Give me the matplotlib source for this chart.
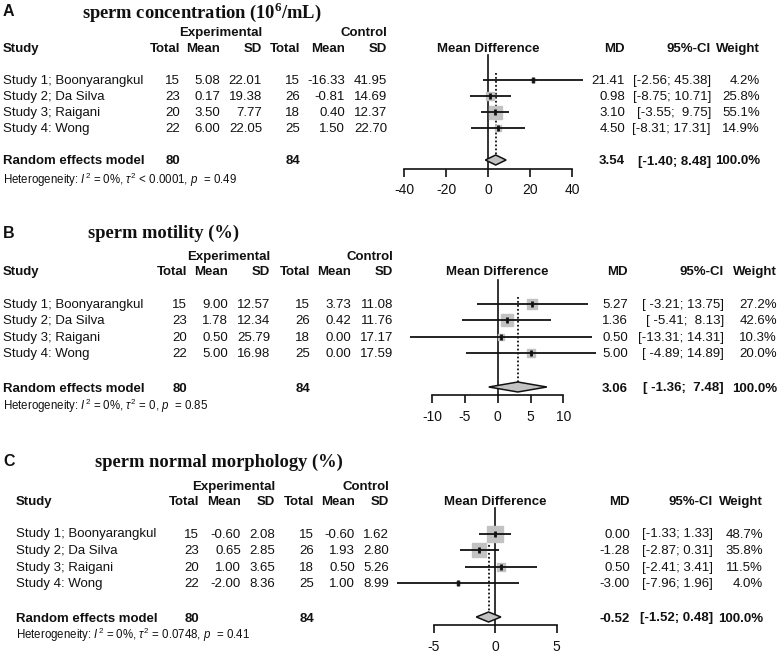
import numpy as np
import matplotlib
matplotlib.use("Agg")
import matplotlib.pyplot as plt
from matplotlib.patches import Polygon

plt.rcParams['font.family'] = ['Liberation Sans', 'DejaVu Sans']
plt.rcParams['mathtext.fontset'] = 'custom'
plt.rcParams['mathtext.rm'] = 'Liberation Sans'
plt.rcParams['mathtext.it'] = 'Liberation Sans:italic'
plt.rcParams['mathtext.bf'] = 'Liberation Serif:bold'

# ---------------- data ----------------
studies = ["Study 1; Boonyarangkul", "Study 2; Da Silva", "Study 3; Raigani", "Study 4: Wong"]
exp_total = [15, 23, 20, 22]
ctl_total = [15, 26, 18, 25]
exp_total_sum = 80
ctl_total_sum = 84

# A: sperm concentration
a_exp_mean = [5.08, 0.17, 3.50, 6.00]
a_exp_sd = [22.01, 19.38, 7.77, 22.05]
a_ctl_mean = [-16.33, -0.81, 0.40, 1.50]
a_ctl_sd = [41.95, 14.69, 12.37, 22.70]
a_md = [21.41, 0.98, 3.10, 4.50]
a_lo = [-2.56, -8.75, -3.55, -8.31]
a_hi = [45.38, 10.71, 9.75, 17.31]
a_weight = [4.2, 25.8, 55.1, 14.9]
a_summary = (3.54, -1.40, 8.48)
a_het = r"Heterogeneity: $I^2$ = 0%, $\tau^2$ < 0.0001, $p$  = 0.49"
a_ticks = [-40, -20, 0, 20, 40]
a_ci_text = ["[-2.56; 45.38]", "[-8.75; 10.71]", "[-3.55;  9.75]", "[-8.31; 17.31]"]
a_sum_ci_text = "[-1.40; 8.48]"

# B: sperm motility
b_exp_mean = [9.00, 1.78, 0.50, 5.00]
b_exp_sd = [12.57, 12.34, 25.79, 16.98]
b_ctl_mean = [3.73, 0.42, 0.00, 0.00]
b_ctl_sd = [11.08, 11.76, 17.17, 17.59]
b_md = [5.27, 1.36, 0.50, 5.00]
b_lo = [-3.21, -5.41, -13.31, -4.89]
b_hi = [13.75, 8.13, 14.31, 14.89]
b_weight = [27.2, 42.6, 10.3, 20.0]
b_summary = (3.06, -1.36, 7.48)
b_het = r"Heterogeneity: $I^2$ = 0%, $\tau^2$ = 0, $p$  = 0.85"
b_ticks = [-10, -5, 0, 5, 10]
b_ci_text = ["[ -3.21; 13.75]", "[ -5.41;  8.13]", "[-13.31; 14.31]", "[ -4.89; 14.89]"]
b_sum_ci_text = "[ -1.36;  7.48]"

# C: sperm normal morphology
c_exp_mean = [-0.60, 0.65, 1.00, -2.00]
c_exp_sd = [2.08, 2.85, 3.65, 8.36]
c_ctl_mean = [-0.60, 1.93, 0.50, 1.00]
c_ctl_sd = [1.62, 2.80, 5.26, 8.99]
c_md = [0.00, -1.28, 0.50, -3.00]
c_lo = [-1.33, -2.87, -2.41, -7.96]
c_hi = [1.33, 0.31, 3.41, 1.96]
c_weight = [48.7, 35.8, 11.5, 4.0]
c_summary = (-0.52, -1.52, 0.48)
c_het = r"Heterogeneity: $I^2$ = 0%, $\tau^2$ = 0.0748, $p$  = 0.41"
c_ticks = [-5, 0, 5]
c_ci_text = ["[-1.33; 1.33]", "[-2.87; 0.31]", "[-2.41; 3.41]", "[-7.96; 1.96]"]
c_sum_ci_text = "[-1.52; 0.48]"

titles = ["sperm concentration (10$^{\\mathbf{6}}$/mL)", "sperm motility (%)", "sperm normal morphology (%)"]
letters = ["A", "B", "C"]

# ---------------- layout (pixel coordinates) ----------------
W, H = 780, 654
layouts = [
    dict(x0=488.3, s=2.096, axis_y=168.5, rows=[80, 96, 112.3, 128.3], diam_y=160, vtop=55, dtop=73,
         letter_y=12, title_x=82, title_y=12, exp_y=33, head_y=49, het_y=180, study_x=3,
         cols=[180, 220, 262, 300, 345, 387], rcols=[625, 711, 760], sq_max=13),
    dict(x0=497.7, s=6.57, axis_y=395, rows=[304, 320, 337, 353], diam_y=387, vtop=280, dtop=297,
         letter_y=233, title_x=88, title_y=233, exp_y=257, head_y=272, het_y=406, study_x=3,
         cols=[187, 228, 270, 310, 351, 393], rcols=[628, 724, 777], sq_max=12),
    dict(x0=495, s=12.3, axis_y=625, rows=[533.5, 550, 567, 583], diam_y=617, vtop=508, dtop=537,
         letter_y=462, title_x=95, title_y=462, exp_y=487, head_y=502, het_y=635, study_x=16,
         cols=[199, 241, 275, 314, 355, 389], rcols=[630, 713, 763], sq_max=16),
]

panels = [
    (a_exp_mean, a_exp_sd, a_ctl_mean, a_ctl_sd, a_md, a_lo, a_hi, a_weight, a_summary, a_het, a_ticks, a_ci_text, a_sum_ci_text),
    (b_exp_mean, b_exp_sd, b_ctl_mean, b_ctl_sd, b_md, b_lo, b_hi, b_weight, b_summary, b_het, b_ticks, b_ci_text, b_sum_ci_text),
    (c_exp_mean, c_exp_sd, c_ctl_mean, c_ctl_sd, c_md, c_lo, c_hi, c_weight, c_summary, c_het, c_ticks, c_ci_text, c_sum_ci_text),
]

TXT = '#111111'
FS = 9.5
fig = plt.figure(figsize=(W / 100, H / 100), dpi=100)
fig.patch.set_facecolor('white')

tax = fig.add_axes([0, 0, 1, 1])
tax.set_xlim(0, W)
tax.set_ylim(H, 0)
tax.axis('off')

def t(x, y, s, ha='left', bold=False, fs=FS, **kw):
    tax.text(x, y, s, ha=ha, va='center', fontsize=fs, color=TXT,
             fontweight='bold' if bold else 'normal', **kw)

for k, (lay, pdata) in enumerate(zip(layouts, panels)):
    (em, esd, cm, csd, md, lo, hi, wt, summ, het, ticks, ci_text, sum_ci) = pdata
    L = lay
    cols = L['cols']
    rc = L['rcols']
    # panel letter & title
    t(3, L['letter_y'], letters[k], bold=True, fs=11.5)
    tax.text(L['title_x'], L['title_y'], titles[k], ha='left', va='center', fontsize=13.3,
             fontweight='bold', family=['Liberation Serif', 'DejaVu Serif'], color=TXT,
             math_fontfamily='custom')
    # headers
    t(cols[2], L['exp_y'], "Experimental", ha='right', bold=True)
    t(cols[5], L['exp_y'], "Control", ha='right', bold=True)
    hy = L['head_y']
    t(L['study_x'], hy, "Study", bold=True)
    for c, lab in zip(cols, ["Total", "Mean", "SD", "Total", "Mean", "SD"]):
        t(c, hy, lab, ha='right', bold=True)
    t(L['x0'], hy, "Mean Difference", ha='center', bold=True)
    t(rc[0], hy, "MD", ha='right', bold=True)
    t(rc[1], hy, "95%-CI", ha='right', bold=True)
    t(rc[2], hy, "Weight", ha='right', bold=True)
    # rows
    for i, y in enumerate(L['rows']):
        ty = y + 1
        t(L['study_x'], ty, studies[i])
        vals = [f"{exp_total[i]}", f"{em[i]:.2f}", f"{esd[i]:.2f}",
                f"{ctl_total[i]}", f"{cm[i]:.2f}", f"{csd[i]:.2f}"]
        for c, v in zip(cols, vals):
            t(c, ty, v, ha='right')
        t(rc[0], ty, f"{md[i]:.2f}", ha='right')
        t(rc[1], ty, ci_text[i], ha='right')
        t(rc[2], ty, f"{wt[i]:.1f}%", ha='right')
    # summary row
    sy = L['diam_y'] + 1.5
    t(L['study_x'], sy, "Random effects model", bold=True)
    t(cols[0], sy, f"{exp_total_sum}", ha='right', bold=True)
    t(cols[3], sy, f"{ctl_total_sum}", ha='right', bold=True)
    t(rc[0], sy, f"{summ[0]:.2f}", ha='right', bold=True)
    t(rc[1], sy, sum_ci, ha='right', bold=True)
    t(rc[2], sy, "100.0%", ha='right', bold=True)
    t(L['study_x'], L['het_y'], het, fs=8.3, math_fontfamily='custom')

    # forest axis
    fax = fig.add_axes([0, 0, 1, 1])
    fax.patch.set_alpha(0)
    fax.set_xlim((0 - L['x0']) / L['s'], (W - L['x0']) / L['s'])
    fax.set_ylim(H, 0)
    for sp in ['top', 'right', 'left']:
        fax.spines[sp].set_visible(False)
    fax.spines['bottom'].set_position(('data', L['axis_y']))
    fax.spines['bottom'].set_bounds(ticks[0], ticks[-1])
    fax.spines['bottom'].set_linewidth(1.2)
    fax.spines['bottom'].set_color(TXT)
    fax.set_xticks(ticks)
    fax.set_xticklabels([str(v) for v in ticks])
    fax.tick_params(axis='x', direction='out', length=5.5, width=1.2, pad=5,
                    labelsize=10, colors=TXT)
    fax.set_yticks([])

    # reference and summary lines
    fax.plot([0, 0], [L['vtop'], L['axis_y']], color=TXT, lw=1.2, zorder=2)
    fax.plot([summ[0], summ[0]], [L['dtop'], L['diam_y'] - 4], color=TXT, lw=1.3,
             ls=(0, (1, 1.2)), zorder=2)
    wmax = max(wt)
    for i, y in enumerate(L['rows']):
        side = L['sq_max'] * np.sqrt(wt[i] / wmax)
        fax.plot([md[i]], [y], marker='s', ms=side * 0.72, color='#c2c2c2', mec='#c2c2c2',
                 ls='none', zorder=3)
        fax.plot([lo[i], hi[i]], [y, y], color=TXT, lw=1.3, zorder=4, solid_capstyle='butt')
        fax.plot([md[i]], [y], marker='|', ms=4, mew=2.0, color=TXT, ls='none', zorder=5)
    dy = L['diam_y']
    hh = 5
    diamond = Polygon([[summ[1], dy], [summ[0], dy - hh], [summ[2], dy], [summ[0], dy + hh]],
                      closed=True, facecolor='#c2c2c2', edgecolor=TXT, lw=1.1, zorder=4)
    fax.add_patch(diamond)

fig.savefig("out.png", dpi=100, facecolor='white')
